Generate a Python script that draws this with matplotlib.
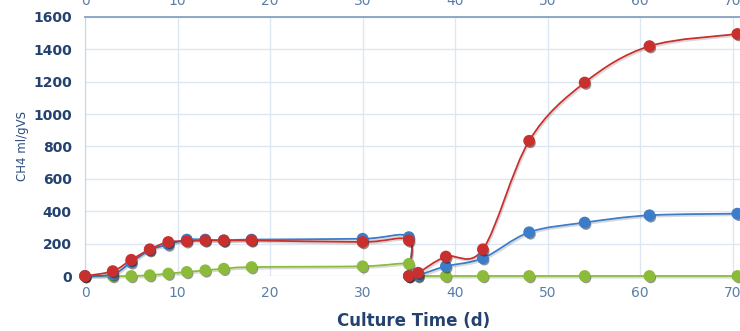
import numpy as np
import matplotlib
matplotlib.use('Agg')
import matplotlib.pyplot as plt
from matplotlib.path import Path
from matplotlib.patches import PathPatch
import matplotlib.patheffects as pe

# Datos
dias = [0, 3, 5, 7, 9, 11, 13, 15, 18, 30, 35, 35, 36, 39, 43, 48, 54, 61, 70.5]
azul = [0, 10, 85, 160, 195, 225, 225, 220, 225, 230, 240, 0, 5, 60, 110, 270, 330, 375, 385]
rojo = [0, 30, 100, 165, 210, 215, 220, 220, 220, 210, 220, 0, 20, 120, 165, 835, 1195, 1420, 1495]
verde = [0, 0, 0, 5, 15, 25, 35, 45, 55, 60, 75, 0, 0, 0, 0, 0, 0, 0, 0]

colores = {'azul': '#3D7CC9', 'rojo': '#C8302E', 'verde': '#8CBB3C'}

fig = plt.figure(figsize=(7.4, 3.31), dpi=100)
ax = fig.add_axes([85 / 740, 55 / 331, 657 / 740, 259 / 331])
ax.set_xlim(0, 71)
ax.set_ylim(0, 1600)


def curva_suave(x, y):
    # spline tipo Excel (Catmull-Rom -> Bezier) calculado en pixeles
    pts = ax.transData.transform(np.column_stack([x, y]))
    n = len(pts)
    verts = [pts[0]]
    codes = [Path.MOVETO]
    for i in range(n - 1):
        p0 = pts[max(i - 1, 0)]
        p1 = pts[i]
        p2 = pts[i + 1]
        p3 = pts[min(i + 2, n - 1)]
        c1 = p1 + (p2 - p0) / 6
        c2 = p2 - (p3 - p1) / 6
        verts += [c1, c2, p2]
        codes += [Path.CURVE4] * 3
    verts = ax.transData.inverted().transform(np.array(verts))
    return Path(verts, codes)


sombra = [pe.SimpleLineShadow(offset=(0.8, -1.2), alpha=0.15, shadow_color='k'), pe.Normal()]

for serie, nombre in [(verde, 'verde'), (azul, 'azul'), (rojo, 'rojo')]:
    c = colores[nombre]
    patch = PathPatch(curva_suave(dias, serie), facecolor='none', edgecolor=c, lw=1.3,
                      zorder=3, clip_on=False)
    patch.set_path_effects(sombra)
    ax.add_patch(patch)
    ax.plot(dias, serie, ls='none', marker='o', ms=7.5, color=c, mec=c, zorder=4, clip_on=False,
            path_effects=[pe.SimplePatchShadow(offset=(1, -1.5), alpha=0.5), pe.Normal()])

ax.set_xticks(range(0, 71, 10))
ax.set_yticks(range(0, 1601, 200))
ax.grid(True, color='#DDE7F3', lw=1)
ax.set_axisbelow(True)

for lado in ['right', 'bottom']:
    ax.spines[lado].set_visible(False)
ax.spines['left'].set_color('#C5D6EC')
ax.spines['top'].set_color('#8FA7C8')
ax.spines['top'].set_linewidth(1.4)

ax.tick_params(axis='x', top=False, bottom=False, labeltop=False, labelbottom=True,
               colors='#5A7DA8', labelsize=10, pad=4)
ax.tick_params(axis='y', left=False, labelsize=10, colors='#24426F', pad=6)
for t in ax.get_yticklabels():
    t.set_fontweight('bold')

# eje superior (etiquetas cortadas por el borde)
arriba = ax.secondary_xaxis('top')
arriba.set_xticks(range(0, 71, 10))
arriba.tick_params(axis='x', top=False, colors='#5A7DA8', labelsize=10, pad=3)
arriba.spines['top'].set_visible(False)

ax.set_ylabel('CH4 ml/gVS', color='#2B4C7E', fontsize=8.5, labelpad=3)
ax.set_xlabel('Culture Time (d)', color='#24426F', fontsize=12, fontweight='bold', labelpad=8)

fig.savefig('out.png', dpi=100)
